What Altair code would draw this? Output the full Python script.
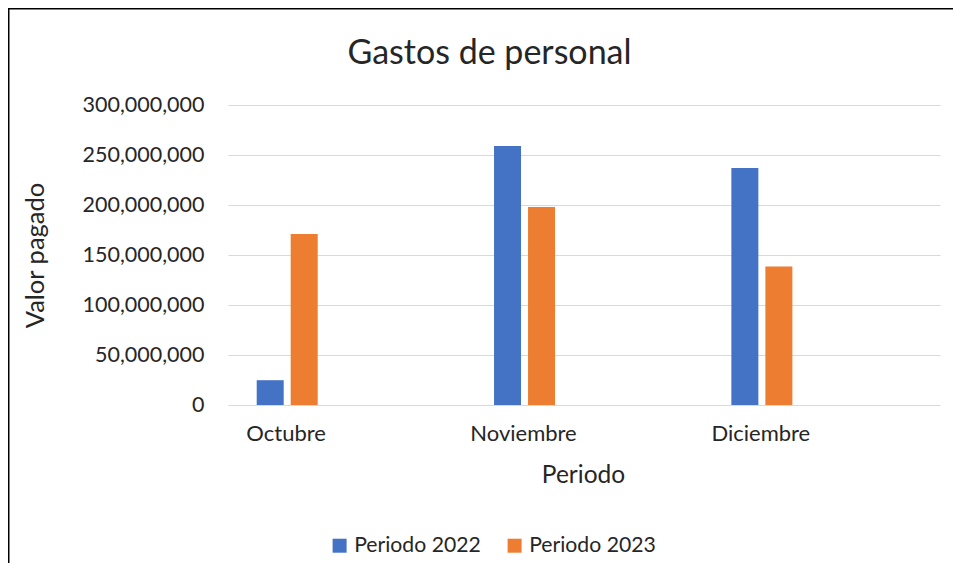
import altair as alt
import pandas as pd

# ---- data ----
meses = ["Octubre", "Noviembre", "Diciembre"]
series = ["Periodo 2022", "Periodo 2023"]
valores_2022 = [24_800_000, 259_000_000, 237_000_000]
valores_2023 = [171_000_000, 198_000_000, 138_500_000]
colores = ["#4472C4", "#ED7D31"]
y_ticks = [0, 50_000_000, 100_000_000, 150_000_000, 200_000_000, 250_000_000, 300_000_000]
titulo = "Gastos de personal"

rows = []
for m, a, b in zip(meses, valores_2022, valores_2023):
    rows.append({"Mes": m, "Serie": series[0], "Valor": a})
    rows.append({"Mes": m, "Serie": series[1], "Valor": b})
df = pd.DataFrame(rows)

W, H = 712, 300
FONT = "Lato"
TXT = "#262626"

bars = alt.Chart(df).mark_bar().encode(
    x=alt.X(
        "Mes:N",
        sort=meses,
        scale=alt.Scale(paddingInner=0, paddingOuter=0),
        axis=alt.Axis(
            title="Periodo", labelAngle=0, labelOffset=-60.5, labelPadding=18,
            ticks=False, domain=False, grid=False,
            labelFont=FONT, labelFontSize=22, labelColor=TXT,
            titleFont=FONT, titleFontSize=24.5, titleFontWeight="normal", titleColor=TXT,
            titleX=355, titleY=77, titleBaseline="alphabetic",
        ),
    ),
    xOffset=alt.XOffset(
        "Serie:N", sort=series,
        scale=alt.Scale(range=[28.7, 89.7], paddingInner=7 / 34, paddingOuter=0),
    ),
    y=alt.Y(
        "Valor:Q",
        scale=alt.Scale(domain=[0, 300_000_000], nice=False),
        axis=alt.Axis(
            values=y_ticks, format=",.0f", title="Valor pagado",
            ticks=False, domain=False, grid=True, gridColor="#d9d9d9", gridWidth=1.2,
            labelFont=FONT, labelFontSize=21.5, labelColor=TXT, labelPadding=24,
            titleFont=FONT, titleFontSize=25.5, titleFontWeight="normal", titleColor=TXT,
            titleX=-193, titleY=150, titleAngle=-90, titleAlign="center", titleBaseline="middle",
        ),
    ),
    color=alt.Color(
        "Serie:N", sort=series,
        scale=alt.Scale(domain=series, range=colores),
        legend=alt.Legend(
            title=None, orient="none", legendX=101, legendY=430, direction="horizontal",
            symbolType="square", symbolSize=196, symbolStrokeWidth=0, symbolOpacity=1,
            labelFont=FONT, labelFontSize=21.2, labelColor=TXT, labelOffset=4,
            columnPadding=23, padding=0,
        ),
    ),
)

frame_df = pd.DataFrame({"k": [0]})
title_mark = alt.Chart(frame_df).mark_text(
    text=titulo, font=FONT, fontSize=34, color=TXT, align="center", baseline="alphabetic"
).encode(x=alt.value(261.5), y=alt.value(-41))
left_line = alt.Chart(frame_df).mark_rect(color="black").encode(
    x=alt.value(-220.5), x2=alt.value(-218.5), y=alt.value(-98), y2=alt.value(470)
)
top_line = alt.Chart(frame_df).mark_rect(color="black").encode(
    x=alt.value(-221), x2=alt.value(760), y=alt.value(-97.5), y2=alt.value(-95.5)
)

chart = alt.layer(bars, title_mark, left_line, top_line).properties(
    width=W, height=H,
    autosize=alt.AutoSizeParams(type="none"),
    padding={"left": 220, "top": 97, "right": 13, "bottom": 158},
    background="white",
).configure_view(stroke=None)

chart.save("out.html", embed_options={"renderer": "svg", "actions": False})
